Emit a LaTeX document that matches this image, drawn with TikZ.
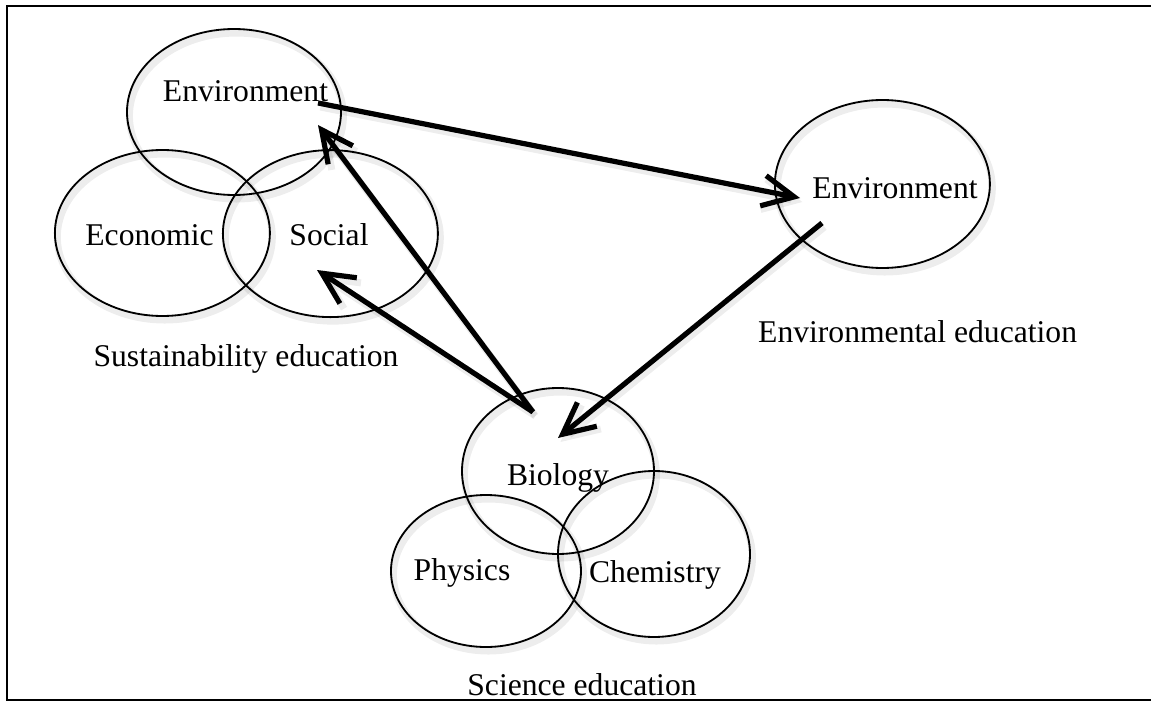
\documentclass[tikz,border=0pt]{standalone}
\usepackage{fontspec}
\setmainfont{Liberation Serif}
\usetikzlibrary{arrows.meta}
\usetikzlibrary{backgrounds}
\usetikzlibrary{shapes,shapes.geometric}
\pgfdeclarelayer{edgelayer}
\pgfdeclarelayer{nodelayer}
\pgfsetlayers{background,nodelayer,edgelayer,main}
\tikzstyle{none}=[inner sep=0mm]
\tikzstyle{soft}=[preaction={draw=black, draw opacity=0.07, line width=5pt, transform canvas={shift={(0.06,-0.1)}}}]
\tikzstyle{blob}=[shape=ellipse,draw=black,line width=1.3pt,inner sep=0mm,soft]
\tikzstyle{word}=[inner sep=0mm,anchor=base,font=\fontsize{22.5}{27}\selectfont]
\tikzstyle{bigarrow}=[line width=3.7pt,-{Straight Barb[length=0.79cm,width=0.77cm]},soft]

\begin{document}
\begin{tikzpicture}
	\useasboundingbox (0,0) rectangle (28.775,-17.525);
	% frame, open on the right
	\draw [line width=1.4pt] (28.775,-0.15) -- (0.175,-0.15) -- (0.175,-17.5) -- (28.775,-17.5);
	\begin{pgfonlayer}{nodelayer}
		\node [style=blob, minimum width=5.35cm, minimum height=4.15cm] (0) at (5.85, -2.8) {};
		\node [style=blob, minimum width=5.375cm, minimum height=4.15cm] (1) at (4.06, -5.825) {};
		\node [style=blob, minimum width=5.375cm, minimum height=4.175cm] (2) at (8.26, -5.84) {};
		\node [style=blob, minimum width=5.375cm, minimum height=4.2cm] (3) at (22.06, -4.6) {};
		\node [style=blob, minimum width=4.8cm, minimum height=4.15cm] (4) at (13.95, -11.775) {};
		\node [style=blob, minimum width=4.75cm, minimum height=3.8cm] (5) at (12.15, -14.275) {};
		\node [style=blob, minimum width=4.8cm, minimum height=4.15cm] (6) at (16.35, -13.85) {};
		\node [style=word] (7) at (6.1375, -2.55) {Environment};
		\node [style=word] (8) at (3.7375, -6.125) {Economic};
		\node [style=word] (9) at (8.225, -6.125) {Social};
		\node [style=word] (10) at (6.15, -9.17) {Sustainability education};
		\node [style=word] (11) at (22.375, -4.95) {Environment};
		\node [style=word] (12) at (22.94, -8.55) {Environmental education};
		\node [style=word] (13) at (13.95, -12.125) {Biology};
		\node [style=word] (14) at (11.55, -14.5) {Physics};
		\node [style=word] (15) at (16.375, -14.55) {Chemistry};
		\node [style=word] (16) at (14.55, -17.375) {Science education};
		\node [style=none] (17) at (7.95, -2.575) {};
		\node [style=none] (18) at (20.0, -4.95) {};
		\node [style=none] (19) at (20.55, -5.575) {};
		\node [style=none] (20) at (13.95, -10.95) {};
		\node [style=none] (21) at (13.325, -10.3) {};
		\node [style=none] (22) at (7.95, -3.125) {};
		\node [style=none] (23) at (7.925, -6.75) {};
	\end{pgfonlayer}
	\begin{pgfonlayer}{edgelayer}
		\draw [style=bigarrow] (17.center) to (18.center);
		\draw [style=bigarrow] (19.center) to (20.center);
		\draw [style=bigarrow] (21.center) to (22.center);
		\draw [style=bigarrow] (21.center) to (23.center);
	\end{pgfonlayer}
\end{tikzpicture}
\end{document}
